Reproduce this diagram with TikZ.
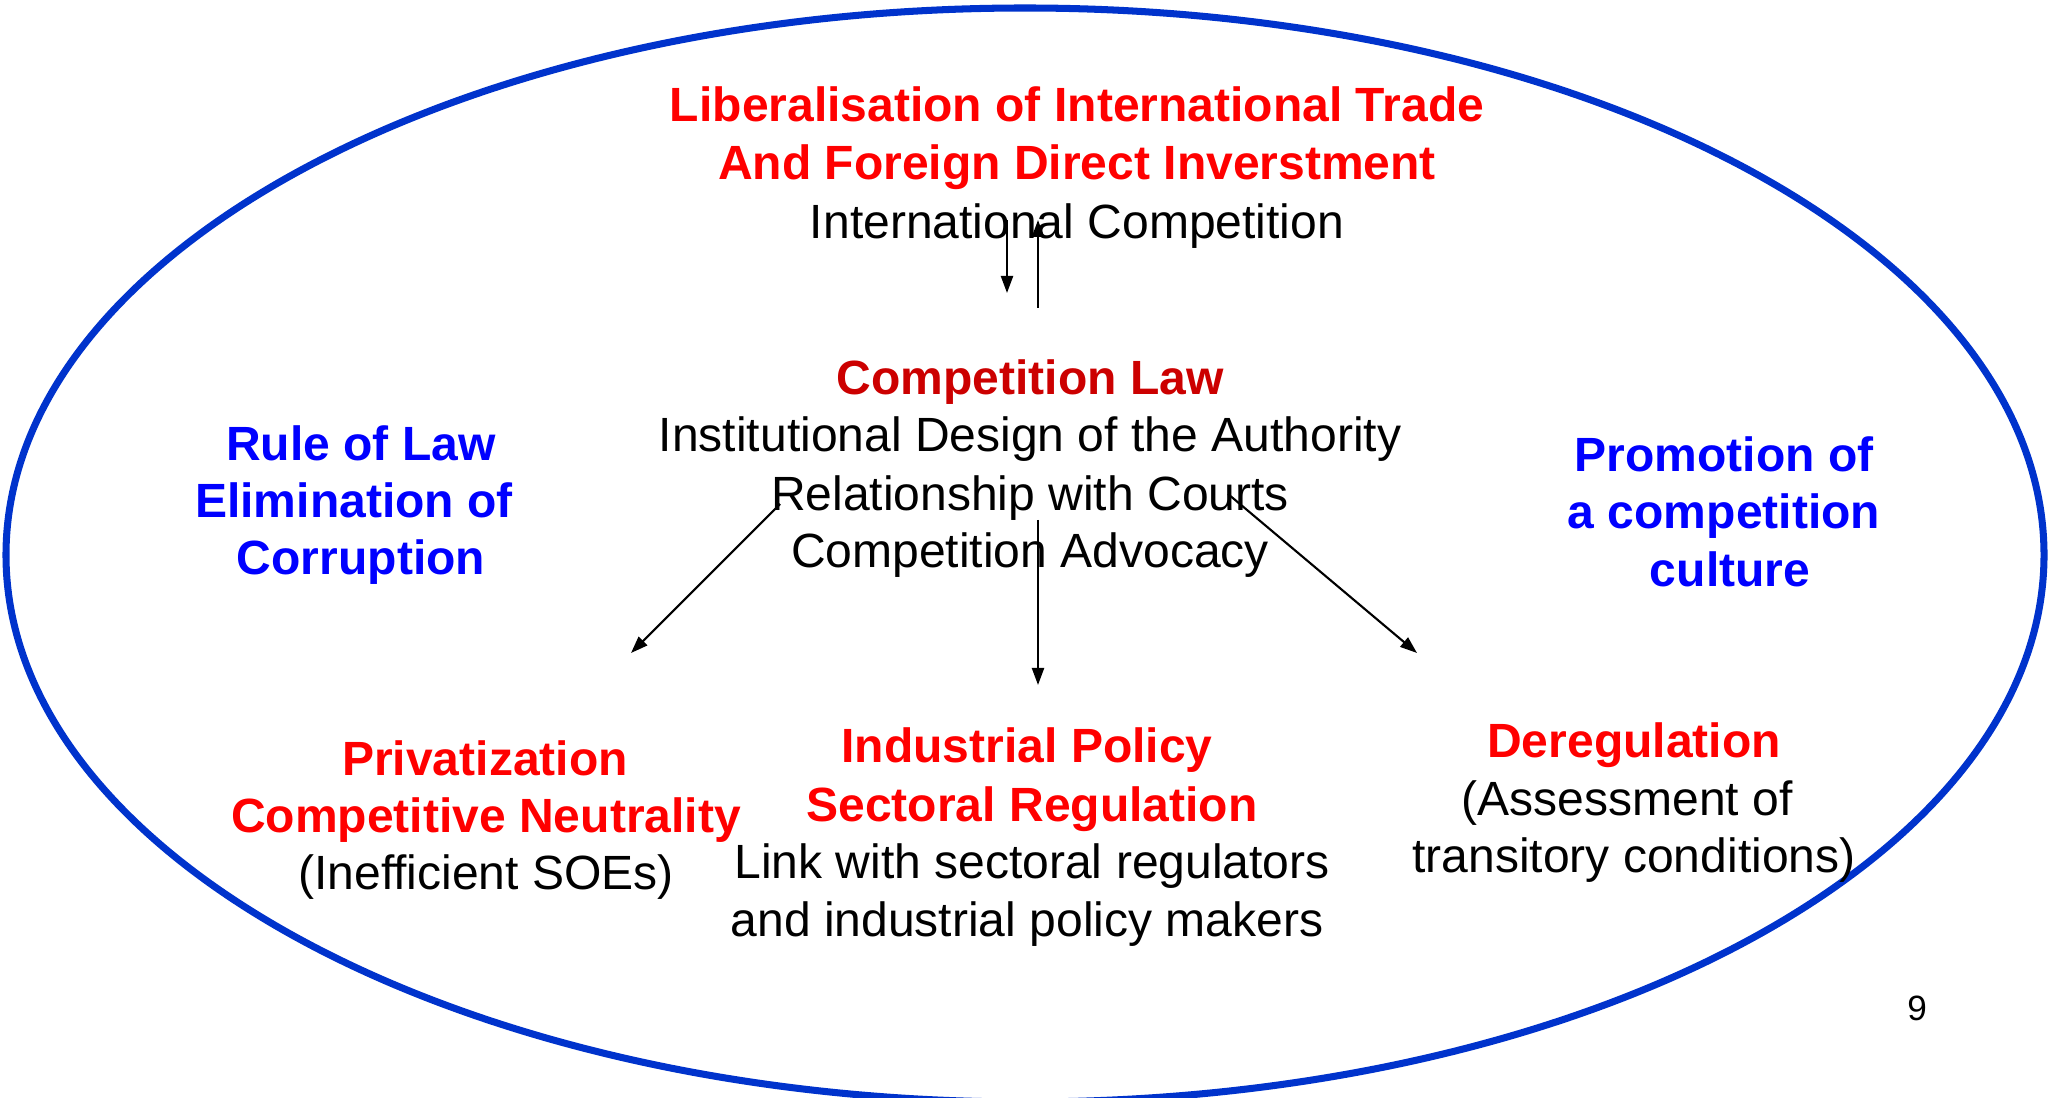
\documentclass[tikz,border=0pt]{standalone}
\usepackage{fontspec}
\setmainfont{Liberation Sans}
\usetikzlibrary{arrows.meta}
\definecolor{ellblue}{HTML}{0033CC}
\definecolor{tred}{HTML}{FF0000}
\definecolor{tdred}{HTML}{CC0000}
\definecolor{tblue}{HTML}{0000FF}
\begin{document}
\begin{tikzpicture}[x=0.01cm,y=-0.01cm,
  txt/.style={align=center,inner sep=0pt,font=\fontsize{13.66pt}{16.36pt}\selectfont},
  btxt/.style={txt,text=tblue,font=\bfseries\fontsize{13.66pt}{16.36pt}\selectfont},
  arr/.style={line width=0.6pt,-{Triangle[length=0.17cm,width=0.12cm]}}]
\useasboundingbox (0,0) rectangle (2049,1098);
\fill[white] (0,0) rectangle (2049,1098);
\begin{scope}
\clip (0,0) rectangle (2049,1098);
\draw[ellblue,line width=2pt] (1025,555) ellipse [x radius=1019, y radius=547];
\end{scope}

% top block
\node[txt,anchor=base] (lib1) at (1077,122) {\textcolor{tred}{\bfseries Liberalisation of International Trade}};
\node[txt,anchor=base] (lib2) at (1077,180) {\textcolor{tred}{\bfseries And Foreign Direct Inverstment}};
\node[txt,anchor=base] (lib3) at (1077,239) {International Competition};

% competition law block
\node[txt,anchor=base] (cl1) at (1030,395) {\textcolor{tdred}{\bfseries Competition Law}};
\node[txt,anchor=base] (cl2) at (1030,452) {Institutional Design of the Authority};
\node[txt,anchor=base] (cl3) at (1030,511) {Relationship with Courts};
\node[txt,anchor=base] (cl4) at (1030,568) {Competition Advocacy};

% left blue
\node[btxt,anchor=base] (rl1) at (361,461) {Rule of Law};
\node[btxt,anchor=base] (rl2) at (354,518) {Elimination of};
\node[btxt,anchor=base] (rl3) at (361,575) {Corruption};

% right blue
\node[btxt,anchor=base] (pc1) at (1724,472) {Promotion of};
\node[btxt,anchor=base] (pc2) at (1724,529) {a competition};
\node[btxt,anchor=base] (pc3) at (1730,587) {culture};

% privatization
\node[txt,anchor=base] (pr1) at (485,775) {\textcolor{tred}{\bfseries Privatization}};
\node[txt,anchor=base] (pr2) at (486,832) {\textcolor{tred}{\bfseries Competitive Neutrality}};
\node[txt,anchor=base] (pr3) at (486,889) {(Inefficient SOEs)};

% industrial policy
\node[txt,anchor=base] (ip1) at (1027,763) {\textcolor{tred}{\bfseries Industrial Policy}};
\node[txt,anchor=base] (ip2) at (1032,821) {\textcolor{tred}{\bfseries Sectoral Regulation}};
\node[txt,anchor=base] (ip3) at (1032,878) {Link with sectoral regulators};
\node[txt,anchor=base] (ip4) at (1027,936) {and industrial policy makers};

% deregulation
\node[txt,anchor=base] (de1) at (1634,758) {\textcolor{tred}{\bfseries Deregulation}};
\node[txt,anchor=base] (de2) at (1627,815) {(Assessment of};
\node[txt,anchor=base] (de3) at (1634,873) {transitory conditions)};

% page number
\node[inner sep=0pt,font=\fontsize{10pt}{12pt}\selectfont] (pg) at (1917,1008) {9};

% arrows
\coordinate (d1s) at (1007,220);
\coordinate (d1e) at (1007,293);
\coordinate (u1s) at (1038,308);
\coordinate (u1e) at (1038,220);
\draw[arr] (d1s) -- (d1e);
\draw[arr] (u1s) -- (u1e);

\coordinate (la) at (780,504);
\coordinate (lb) at (631,653);
\coordinate (ma) at (1038,520);
\coordinate (mb) at (1038,685);
\coordinate (ra) at (1228,494);
\coordinate (rb) at (1417,653);
\draw[arr] (la) -- (lb);
\draw[arr] (ma) -- (mb);
\draw[arr] (ra) -- (rb);
\end{tikzpicture}
\end{document}
